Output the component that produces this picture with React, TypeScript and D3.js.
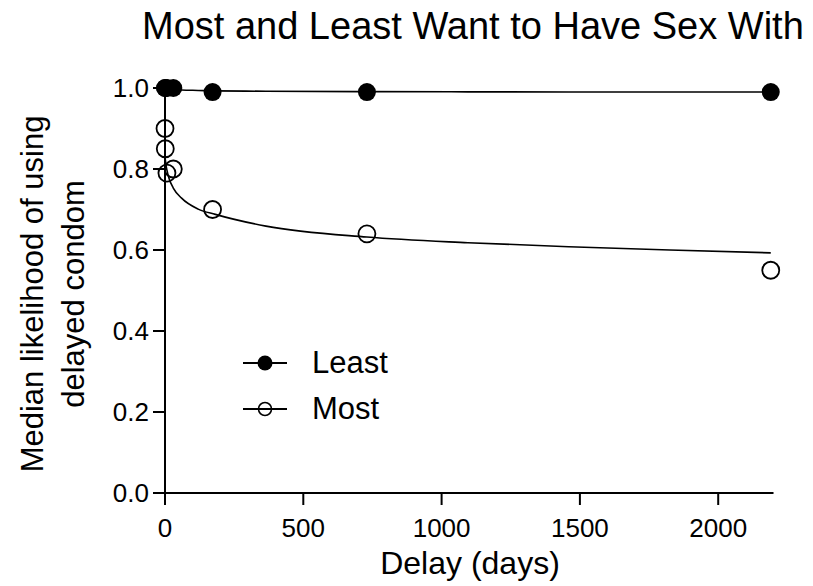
import React from "react";
import * as d3 from "d3";

// Delays (days) of the observed points
const delays = [0.04, 1, 7, 30, 172, 730, 2190];
// Median likelihood: partner least wanted to have sex with (filled)
const leastValues = [1.0, 1.0, 1.0, 1.0, 0.99, 0.99, 0.99];
// Median likelihood: partner most wanted to have sex with (open)
const mostValues = [0.9, 0.85, 0.79, 0.8, 0.7, 0.64, 0.55];

// Fitted curves
const fitDelays = [0, 3, 7, 15, 30, 60, 120, 182, 365, 730, 1095, 1460, 1825, 2190];
const mostFit = [0.83, 0.813, 0.797, 0.776, 0.753, 0.728, 0.701, 0.688, 0.659, 0.632, 0.618, 0.608, 0.6, 0.593];
const leastFit = [1.0, 0.999, 0.998, 0.997, 0.996, 0.995, 0.994, 0.993, 0.992, 0.991, 0.9905, 0.9903, 0.9901, 0.99];

const xTicks = [0, 500, 1000, 1500, 2000];
const yTicks = [0, 0.2, 0.4, 0.6, 0.8, 1.0];

const title = "Most and Least Want to Have Sex With";
const xLabel = "Delay (days)";
const yLabelLines = ["Median likelihood of using", "delayed condom"];
const legendLabels = ["Least", "Most"];

export default function App() {
  const W = 813;
  const H = 586;
  const x = d3.scaleLinear().domain([0, 2200]).range([165, 165 + 2200 * 0.2766]);
  const y = d3.scaleLinear().domain([0, 1]).range([493, 88]);
  const font = "'Liberation Sans', Arial, Helvetica, sans-serif";

  const line = d3
    .line<number>()
    .x((_, i) => x(fitDelays[i]))
    .y((d) => y(d))
    .curve(d3.curveMonotoneX);

  const tickLen = 12;

  return (
    <svg
      width={W}
      height={H}
      viewBox={`0 0 ${W} ${H}`}
      style={{ position: "absolute", left: 0, top: 0, background: "#fff" }}
      fontFamily={font}
    >
      <rect x={0} y={0} width={W} height={H} fill="#fff" />
      {/* Title */}
      <text x={142} y={39} fontSize={38} fill="#000">
        {title}
      </text>

      {/* Y axis */}
      <line x1={x(0)} x2={x(0)} y1={y(1)} y2={y(0)} stroke="#000" strokeWidth={2} />
      {yTicks.map((t) => (
        <g key={"yt" + t}>
          <line x1={x(0) - tickLen} x2={x(0)} y1={y(t)} y2={y(t)} stroke="#000" strokeWidth={2} />
          <text
            x={x(0) - tickLen - 4}
            y={y(t)}
            dy="0.36em"
            textAnchor="end"
            fontSize={26}
            fill="#000"
          >
            {d3.format(".1f")(t)}
          </text>
        </g>
      ))}

      {/* X axis */}
      <line x1={x(0)} x2={x(2200)} y1={y(0)} y2={y(0)} stroke="#000" strokeWidth={2} />
      {xTicks.map((t) => (
        <g key={"xt" + t}>
          <line x1={x(t)} x2={x(t)} y1={y(0)} y2={y(0) + tickLen} stroke="#000" strokeWidth={2} />
          <text x={x(t)} y={537} textAnchor="middle" fontSize={26} fill="#000">
            {t}
          </text>
        </g>
      ))}

      {/* Axis titles */}
      <text x={470} y={574} textAnchor="middle" fontSize={32} fill="#000">
        {xLabel}
      </text>
      <g transform="translate(0,294) rotate(-90)">
        <text x={0} y={43} textAnchor="middle" fontSize={31} fill="#000">
          {yLabelLines[0]}
        </text>
        <text x={0} y={84} textAnchor="middle" fontSize={31} fill="#000">
          {yLabelLines[1]}
        </text>
      </g>

      {/* Fit curves */}
      <path d={line(leastFit) || ""} fill="none" stroke="#000" strokeWidth={1.6} />
      <path d={line(mostFit) || ""} fill="none" stroke="#000" strokeWidth={1.6} />

      {/* Points */}
      {mostValues.map((v, i) => (
        <circle
          key={"m" + i}
          cx={x(delays[i])}
          cy={y(v)}
          r={8.5}
          fill="none"
          stroke="#000"
          strokeWidth={1.8}
        />
      ))}
      {leastValues.map((v, i) => (
        <circle key={"l" + i} cx={x(delays[i])} cy={y(v)} r={9} fill="#000" />
      ))}

      {/* Legend */}
      <g>
        <line x1={243} x2={287} y1={363} y2={363} stroke="#000" strokeWidth={1.8} />
        <circle cx={265} cy={363} r={7.5} fill="#000" />
        <text x={312} y={373} fontSize={31} fill="#000">
          {legendLabels[0]}
        </text>
        <line x1={243} x2={287} y1={409} y2={409} stroke="#000" strokeWidth={1.8} />
        <circle cx={265} cy={409} r={6.5} fill="none" stroke="#000" strokeWidth={1.6} />
        <text x={312} y={419} fontSize={31} fill="#000">
          {legendLabels[1]}
        </text>
      </g>
    </svg>
  );
}
